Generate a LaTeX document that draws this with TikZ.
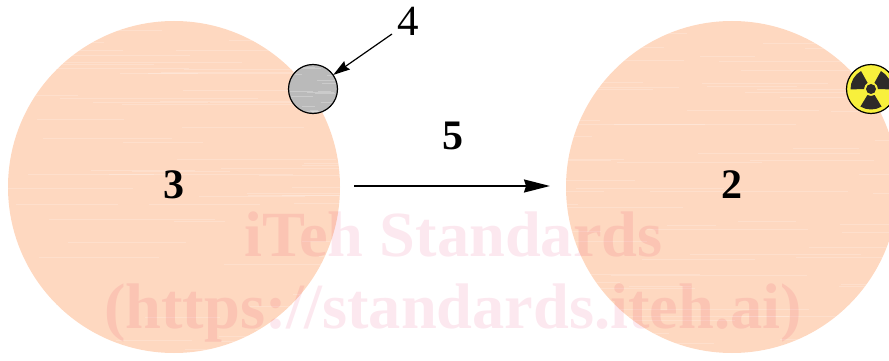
\documentclass[tikz,border=0pt]{standalone}
\usepackage{fontspec}
\usetikzlibrary{arrows.meta}
\newfontfamily\wmfont{Liberation Serif}[BoldFont={Liberation Serif Bold}]
\definecolor{peach}{RGB}{254,216,192}
\definecolor{wmpink}{RGB}{252,232,239}
\definecolor{radyellow}{RGB}{248,240,60}
\tikzset{
  bigdisc/.style={circle,fill=peach,minimum size=332pt,inner sep=0pt,outer sep=0pt},
  smalldisc/.style={circle,draw=black,line width=1.2pt,minimum size=49pt,inner sep=0pt,outer sep=0pt},
  boldlabel/.style={font=\wmfont\bfseries\fontsize{42}{42}\selectfont,text=black,inner sep=0pt},
  thinlabel/.style={font=\wmfont\fontsize{43}{43}\selectfont,text=black,inner sep=0pt},
  watermark/.style={font=\wmfont\bfseries\fontsize{64.4}{64.4}\selectfont,text=wmpink,inner sep=0pt,anchor=base,blend mode=multiply},
  stripe/.style={white,opacity=0.2,line width=0.7pt},
  greystripe/.style={white,opacity=0.25,line width=0.6pt},
  blade/.style={fill=black!95!yellow,draw=none},
}
\begin{document}
\begin{tikzpicture}[x=1pt,y=-1pt]
\useasboundingbox (0,0) rectangle (889,361);
\clip (0,0) rectangle (889,361);
\node[bigdisc] (left) at (174,187) {};
\node[bigdisc] (right) at (732,187) {};
% faint horizontal streaks in the discs
\pgfmathsetseed{42}
\begin{scope}
  \clip (174,187) circle[radius=166] (732,187) circle[radius=166];
  \foreach \i in {1,...,150}{
    \pgfmathsetmacro{\yy}{22+rnd*330}
    \pgfmathsetmacro{\xa}{rnd*889}
    \pgfmathsetmacro{\ll}{40+rnd*160}
    \draw[stripe] (\xa,\yy) -- ++(\ll,0);
  }
\end{scope}
% small grey disc
\node[smalldisc,fill=black!27] (grey) at (313,89) {};
\begin{scope}
  \clip (313,89) circle[radius=23.5];
  \foreach \i in {1,...,16}{
    \pgfmathsetmacro{\yy}{66+rnd*46}
    \pgfmathsetmacro{\xa}{288+rnd*40}
    \pgfmathsetmacro{\ll}{8+rnd*20}
    \draw[greystripe] (\xa,\yy) -- ++(\ll,0);
  }
\end{scope}
% radiation disc
\node[smalldisc,fill=radyellow] (rad) at (871,89) {};
\begin{scope}[shift={(871,89)},x=1pt,y=1pt]
  \foreach \a in {30,150,270}{
    \fill[blade] (\a-31:7) -- (\a-31:20.5) arc[start angle=\a-31,end angle=\a+31,radius=20.5] -- (\a+31:7) arc[start angle=\a+31,end angle=\a-31,radius=7] -- cycle;
  }
  \fill[blade] (0,0) circle[radius=5];
\end{scope}
% labels
\node[boldlabel] (n3) at (174,185) {3};
\node[boldlabel] (n2) at (732,185) {2};
\node[boldlabel] (n5) at (453,136) {5};
\node[thinlabel] (n4) at (408,21) {4};
% connectors
\coordinate (a4) at (392,34);
\draw[line width=1.2pt,-{Stealth[length=17pt,width=10pt,inset=2pt]}] (a4) -- (grey);
\coordinate (a5s) at (354,186);
\coordinate (a5e) at (550,186);
\draw[line width=1.8pt,-{Stealth[length=26pt,width=13pt,inset=2pt]}] (a5s) -- (a5e);
% watermark
\node[watermark] (wm1) at (453.5,256) {iTeh Standards};
\node[watermark] (wm2) at (453,328) {(https://standards.iteh.ai)};
\end{tikzpicture}
\end{document}
